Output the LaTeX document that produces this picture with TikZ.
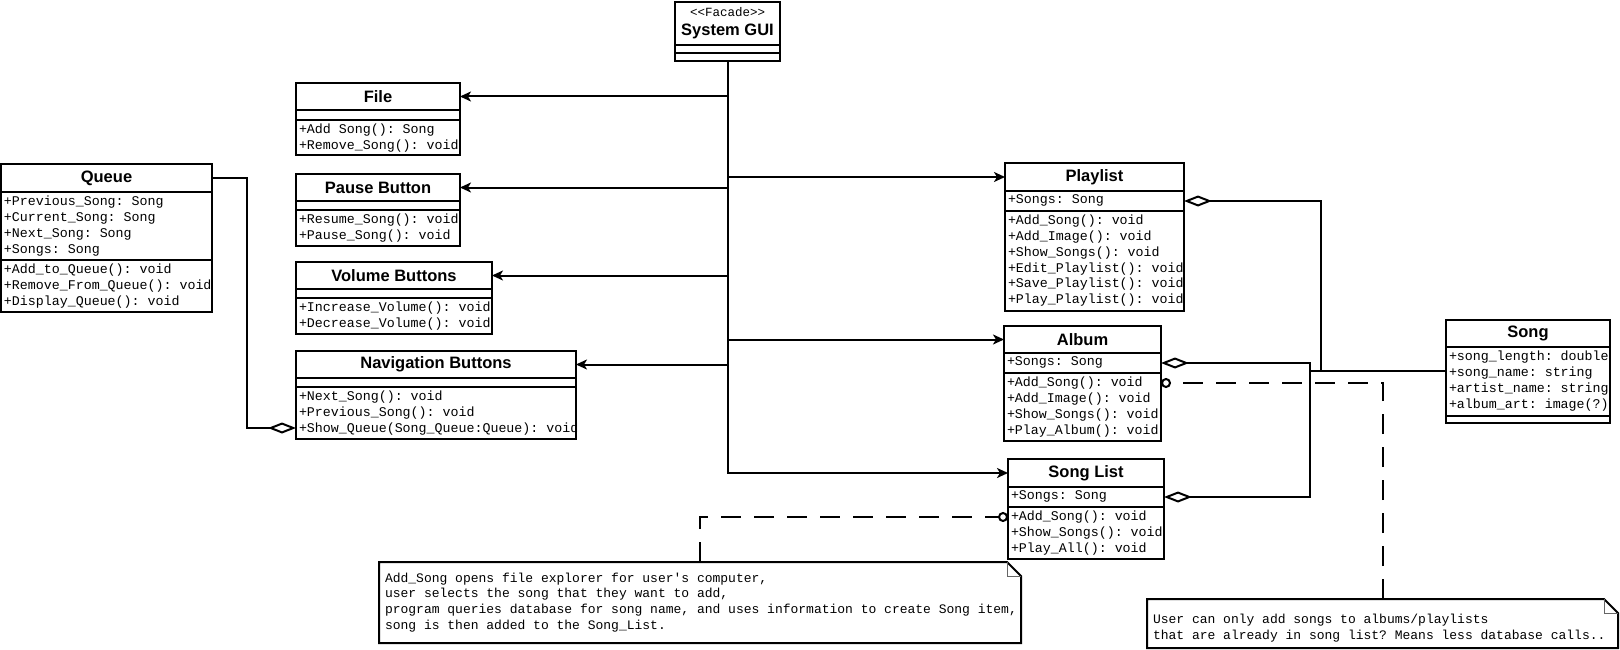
\documentclass[tikz,border=0pt]{standalone}
\usepackage{fontspec}
\setmainfont{Liberation Sans}
\setmonofont{Liberation Mono}
\usepackage{tikz}
\usetikzlibrary{arrows.meta}
\usetikzlibrary{calc}
\usetikzlibrary{positioning}

\begin{document}
\begin{tikzpicture}[%
  x=1pt, y=1pt, line width=2pt, outer sep=0pt,
  umlclass/.style={draw, rectangle, anchor=north west, minimum width=#1, minimum height=27pt, inner sep=0pt, font=\bfseries\fontsize{16.5}{19}\selectfont},
  compart/.style={draw, rectangle, minimum width=#1, inner sep=0pt},
  members/.style={anchor=north west, align=left, inner xsep=3pt, inner ysep=4pt, font=\ttfamily\fontsize{13.3}{15.8}\selectfont},
  assoc/.style={-{Stealth[length=11pt,width=10pt,inset=3pt]}},
  aggr/.style={{Diamond[open,length=28pt,width=11pt]}-},
  noteline/.style={dash pattern=on 20pt off 13pt, -{Circle[open,length=10pt]}},
  umlnote/.style={anchor=north west, inner sep=0pt},
  notetext/.style={anchor=west, align=left, inner xsep=6pt, font=\ttfamily\fontsize{13}{15.8}\selectfont}
  ]
  \useasboundingbox (0,0) rectangle (1620,-650);

  % The facade
  \node[umlclass=105pt, minimum height=43pt, align=center] (gui) at (675,-2)
    {{\mdseries\ttfamily\fontsize{12.5}{13}\selectfont <{}<Facade>{}>}\\System GUI};
  \node[compart=105pt, minimum height=8pt, below=0pt of gui] (gui-attr) {};
  \node[compart=105pt, minimum height=8pt, below=0pt of gui-attr] (gui-ops) {};

  % Draw the controls on the left
  \node[umlclass=164pt] (file) at (296,-83) {File};
  \node[compart=164pt, minimum height=10pt, below=0pt of file] (file-attr) {};
  \node[compart=164pt, minimum height=35pt, below=0pt of file-attr] (file-ops) {};
  \node[members] (file-ot) at (file-ops.north west) {+Add Song(): Song\\+Remove\_Song(): void};

  \node[umlclass=164pt] (pause) at (296,-174) {Pause Button};
  \node[compart=164pt, minimum height=9pt, below=0pt of pause] (pause-attr) {};
  \node[compart=164pt, minimum height=36pt, below=0pt of pause-attr] (pause-ops) {};
  \node[members] (pause-ot) at (pause-ops.north west) {+Resume\_Song(): void\\+Pause\_Song(): void};

  \node[umlclass=196pt] (volume) at (296,-262) {Volume Buttons};
  \node[compart=196pt, minimum height=9pt, below=0pt of volume] (volume-attr) {};
  \node[compart=196pt, minimum height=36pt, below=0pt of volume-attr] (volume-ops) {};
  \node[members] (volume-ot) at (volume-ops.north west) {+Increase\_Volume(): void\\+Decrease\_Volume(): void};

  \node[umlclass=280pt] (nav) at (296,-351) {Navigation Buttons};
  \node[compart=280pt, minimum height=9pt, below=0pt of nav] (nav-attr) {};
  \node[compart=280pt, minimum height=52pt, below=0pt of nav-attr] (nav-ops) {};
  \node[members] (nav-ot) at (nav-ops.north west) {+Next\_Song(): void\\+Previous\_Song(): void\\+Show\_Queue(Song\_Queue:Queue): void};

  % The queue
  \node[umlclass=211pt, minimum height=28pt] (queue) at (1,-164) {Queue};
  \node[compart=211pt, minimum height=68pt, below=0pt of queue] (queue-attr) {};
  \node[compart=211pt, minimum height=52pt, below=0pt of queue-attr] (queue-ops) {};
  \node[members] (queue-at) at (queue-attr.north west) {+Previous\_Song: Song\\+Current\_Song: Song\\+Next\_Song: Song\\+Songs: Song};
  \node[members] (queue-ot) at (queue-ops.north west) {+Add\_to\_Queue(): void\\+Remove\_From\_Queue(): void\\+Display\_Queue(): void};

  % Draw the song collections on the right
  \node[umlclass=179pt, minimum height=28pt] (playlist) at (1005,-163) {Playlist};
  \node[compart=179pt, minimum height=20pt, below=0pt of playlist] (playlist-attr) {};
  \node[compart=179pt, minimum height=100pt, below=0pt of playlist-attr] (playlist-ops) {};
  \node[members] (playlist-at) at (playlist-attr.north west) {+Songs: Song};
  \node[members] (playlist-ot) at (playlist-ops.north west) {+Add\_Song(): void\\+Add\_Image(): void\\+Show\_Songs(): void\\+Edit\_Playlist(): void\\+Save\_Playlist(): void\\+Play\_Playlist(): void};

  \node[umlclass=157pt] (album) at (1004,-326) {Album};
  \node[compart=157pt, minimum height=20pt, below=0pt of album] (album-attr) {};
  \node[compart=157pt, minimum height=68pt, below=0pt of album-attr] (album-ops) {};
  \node[members] (album-at) at (album-attr.north west) {+Songs: Song};
  \node[members] (album-ot) at (album-ops.north west) {+Add\_Song(): void\\+Add\_Image(): void\\+Show\_Songs(): void\\+Play\_Album(): void};

  \node[umlclass=156pt, minimum height=28pt] (songlist) at (1008,-459) {Song List};
  \node[compart=156pt, minimum height=20pt, below=0pt of songlist] (songlist-attr) {};
  \node[compart=156pt, minimum height=52pt, below=0pt of songlist-attr] (songlist-ops) {};
  \node[members] (songlist-at) at (songlist-attr.north west) {+Songs: Song};
  \node[members] (songlist-ot) at (songlist-ops.north west) {+Add\_Song(): void\\+Show\_Songs(): void\\+Play\_All(): void};

  \node[umlclass=164pt] (song) at (1446,-320) {Song};
  \node[compart=164pt, minimum height=69pt, below=0pt of song] (song-attr) {};
  \node[compart=164pt, minimum height=7pt, below=0pt of song-attr] (song-ops) {};
  \node[members] (song-at) at (song-attr.north west) {+song\_length: double\\+song\_name: string\\+artist\_name: string\\+album\_art: image(?)};

  % Notes
  \node[umlnote, minimum width=642pt, minimum height=81pt] (note1) at (379,-562) {};
  \node[umlnote, minimum width=471pt, minimum height=49pt] (note2) at (1147,-599) {};
  \foreach \n in {note1,note2}
    \draw (\n.north west) -- ([xshift=-14pt]\n.north east) -- ([yshift=-14pt]\n.north east)
      -- (\n.south east) -- (\n.south west) -- cycle;
  \foreach \n in {note1,note2}
    \draw[line width=1pt, black!60] ([xshift=-14pt]\n.north east) |- ([yshift=-14pt]\n.north east);
  \node[notetext] (note1-t) at (note1.west)
    {Add\_Song opens file explorer for user's computer,\\user selects the song that they want to add,\\program queries database for song name, and uses information to create Song item,\\song is then added to the Song\_List.};
  \node[notetext] (note2-t) at ([yshift=-5pt]note2.west)
    {User can only add songs to albums/playlists\\that are already in song list? Means less database calls..};

  % The facade uses every control
  \draw[assoc] (gui-ops.south) |- (songlist.west);
  \foreach \cls in {file,pause,volume,nav}
    \draw[assoc] (gui-ops.south |- \cls.east) -- (\cls.east);
  \foreach \cls in {playlist,album}
    \draw[assoc] (gui-ops.south |- \cls.west) -- (\cls.west);

  % Aggregations
  \coordinate (showq) at ($(nav-ops.south west)+(0,11)$);
  \draw[aggr] (showq) -| ($(queue.east)+(35,0)$) -- (queue.east);
  \coordinate (hub) at (1310,-371);
  \coordinate (hub2) at (1321,-371);
  \draw[aggr] (playlist-attr.east) -| (hub2);
  \draw[aggr] (album-attr.east) -| (hub);
  \draw[aggr] (songlist-attr.east) -| (hub);
  \draw (hub) -- (hub -| song-attr.west);

  % Attach the notes
  \coordinate (addsong) at ($(songlist-ops.north west)+(0,-10)$);
  \coordinate (albumadd) at ($(album-ops.north east)+(0,-10)$);
  \draw[noteline] (note1.north) |- (addsong);
  \draw[noteline] (note2.north) |- (albumadd);
\end{tikzpicture}
\end{document}
